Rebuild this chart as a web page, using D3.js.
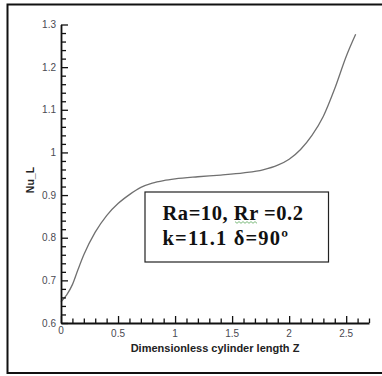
<!DOCTYPE html>
<html>
<head>
<meta charset="utf-8">
<script src="https://cdn.jsdelivr.net/npm/d3@7"></script>
<style>
  html, body { margin: 0; padding: 0; background: #fff; }
  svg { display: block; }
</style>
</head>
<body>
<svg id="chart" width="382" height="376"></svg>
<script>
// Local Nusselt number along the dimensionless cylinder length
const zValues  = [0, 0.05, 0.1, 0.15, 0.2, 0.3, 0.4, 0.5, 0.6, 0.7, 0.8, 0.9, 1.0, 1.2,
                  1.4, 1.6, 1.77, 1.9, 2.0, 2.1, 2.2, 2.3, 2.4, 2.5, 2.583];
const nuValues = [0.650, 0.666, 0.690, 0.726, 0.760, 0.813, 0.852, 0.880, 0.901, 0.918, 0.928, 0.934, 0.938, 0.943,
                  0.947, 0.952, 0.959, 0.970, 0.984, 1.007, 1.040, 1.085, 1.150, 1.225, 1.277];

const xTickValues = [0, 0.5, 1, 1.5, 2, 2.5];
const xTickLabels = ["0", "0.5", "1", "1.5", "2", "2.5"];
const yTickValues = [0.6, 0.7, 0.8, 0.9, 1.0, 1.1, 1.2, 1.3];
const yTickLabels = ["0.6", "0.7", "0.8", "0.9", "1", "1.1", "1.2", "1.3"];
const xMinorTicks = d3.range(0, 28).map(i => i / 10).filter(v => !xTickValues.some(t => Math.abs(t - v) < 1e-9));
const yMinorTicks = d3.range(30, 66).map(i => i / 50).filter(v => !yTickValues.some(t => Math.abs(t - v) < 1e-9));

const xTitle = "Dimensionless cylinder length Z";
const yTitle = "Nu_L";
const noteLines = ["Ra=10, Rr =0.2", "k=11.1 δ=90º"];

const svg = d3.select("#chart");
const x = d3.scaleLinear().domain([0, 2.7]).range([61, 369]);
const y = d3.scaleLinear().domain([0.6, 1.3]).range([323, 24.5]);

const font = "'Liberation Sans', Arial, sans-serif";

// outer frame
svg.append("rect")
  .attr("x", 7.5).attr("y", 4.5).attr("width", 380).attr("height", 368.5)
  .attr("fill", "none").attr("stroke", "#111").attr("stroke-width", 2);

// curve
const line = d3.line().x((d, i) => x(zValues[i])).y(d => y(d)).curve(d3.curveMonotoneX);
svg.append("path")
  .datum(nuValues)
  .attr("d", line)
  .attr("fill", "none")
  .attr("stroke", "#707070")
  .attr("stroke-width", 1.3);

// x axis (ticks pointing inward)
const gx = svg.append("g").attr("transform", `translate(0,${y(0.6)})`);
gx.call(d3.axisTop(x).tickValues(xTickValues).tickSize(7).tickSizeOuter(0).tickFormat(""));
gx.append("g").call(d3.axisTop(x).tickValues(xMinorTicks).tickSize(4.5).tickFormat(""))
  .select(".domain").remove();
gx.selectAll(".domain").attr("stroke", "#111").attr("stroke-width", 1.8);
gx.selectAll(".tick line").attr("stroke", "#111").attr("stroke-width", 1.3);

// y axis (ticks pointing inward)
const gy = svg.append("g").attr("transform", `translate(${x(0)},0)`);
gy.call(d3.axisRight(y).tickValues(yTickValues).tickSize(7).tickSizeOuter(0).tickFormat(""));
gy.append("g").call(d3.axisRight(y).tickValues(yMinorTicks).tickSize(5).tickFormat(""))
  .select(".domain").remove();
gy.selectAll(".domain").attr("stroke", "#111").attr("stroke-width", 1.8);
gy.selectAll(".tick line").attr("stroke", "#111").attr("stroke-width", 1.3);

// tick labels
svg.append("g").selectAll("text")
  .data(yTickValues)
  .join("text")
  .attr("x", x(0) - 5)
  .attr("y", d => y(d) + 3.5)
  .attr("text-anchor", "end")
  .attr("font-family", font).attr("font-size", 10)
  .attr("fill", "#4a4a52")
  .text((d, i) => yTickLabels[i]);

svg.append("g").selectAll("text")
  .data(xTickValues)
  .join("text")
  .attr("x", d => x(d))
  .attr("y", (d, i) => i === 0 ? y(0.6) + 11 : y(0.6) + 13.5)
  .attr("text-anchor", "middle")
  .attr("font-family", font).attr("font-size", 10)
  .attr("fill", "#4a4a52")
  .text((d, i) => xTickLabels[i]);

// axis titles
svg.append("text")
  .attr("x", 215).attr("y", 352)
  .attr("text-anchor", "middle")
  .attr("font-family", font).attr("font-size", 11).attr("font-weight", "bold")
  .attr("fill", "#222")
  .text(xTitle);

svg.append("text")
  .attr("transform", "translate(34,180) rotate(-90)")
  .attr("text-anchor", "middle")
  .attr("font-family", font).attr("font-size", 10.5).attr("font-weight", "bold")
  .attr("fill", "#222")
  .text(yTitle);

// parameter note
svg.append("rect")
  .attr("x", 145).attr("y", 192).attr("width", 183.5).attr("height", 70)
  .attr("fill", "#fff").attr("stroke", "#222").attr("stroke-width", 1.2);

const note = svg.append("text")
  .attr("font-family", "'Liberation Serif', 'Times New Roman', serif")
  .attr("font-size", 20.5).attr("font-weight", "bold").attr("fill", "#111");
note.append("tspan").attr("x", 162.5).attr("y", 219.5)
  .attr("textLength", 140.5).attr("lengthAdjust", "spacing").text(noteLines[0]);
note.append("tspan").attr("x", 162.5).attr("y", 244.5)
  .attr("textLength", 125.5).attr("lengthAdjust", "spacing").text(noteLines[1]);

// spell-check squiggle under "Rr"
const sq = d3.range(0, 12).map(i => [235 + i * 2, i % 2 ? 223.3 : 221.6]);
svg.append("path")
  .attr("d", d3.line()(sq))
  .attr("fill", "none").attr("stroke", "#5aa85a").attr("stroke-width", 0.8);
</script>
</body>
</html>
